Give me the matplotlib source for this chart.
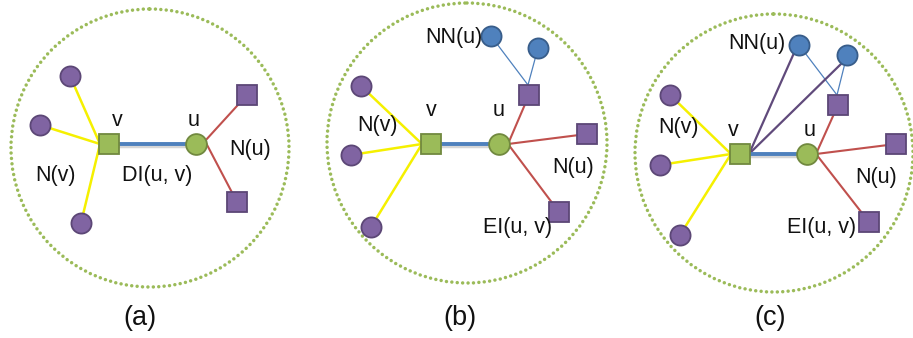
import matplotlib.pyplot as plt
from matplotlib.patches import Circle

plt.rcParams["font.family"] = ["Liberation Sans", "DejaVu Sans"]

# colours of the drawing
GREEN, GREEN_EDGE = "#9bbb59", "#71893f"
PURPLE, PURPLE_EDGE = "#8064a2", "#5c4776"
BLUE, BLUE_EDGE = "#4f81bd", "#385d8a"
YELLOW = "#f5f000"
RED = "#c0504d"
DARK_PURPLE = "#604a7b"

# ---- node positions (pixel space, y downwards) ----
# panel (a)
a_ring = (150, 148, 139)
a_v = (109, 144)
a_u = (196, 144)
a_nv = [(70, 76), (40, 125), (81, 223)]
a_nu = [(247, 95), (237, 202)]
a_nn = []

# panel (b)
b_ring = (467, 143, 140)
b_v = (431, 144)
b_u = (499, 144)
b_nv = [(361, 86), (351, 155), (371, 227)]
b_nu = [(529, 95), (587, 134), (559, 212)]
b_nn = [(491, 36), (538, 48)]

# panel (c)
c_ring = (774, 153, 139)
c_v = (740, 154)
c_u = (807, 154)
c_nv = [(670, 95), (660, 165), (680, 235)]
c_nu = [(838, 105), (896, 144), (869, 222)]
c_nn = [(799, 45), (847, 55)]

# ---- labels: (text, x, y) ----
a_labels = [("v", 117, 120), ("u", 194, 120), ("N(u)", 250, 150),
            ("N(v)", 55, 176), ("DI(u, v)", 157, 176)]
b_labels = [("NN(u)", 454, 38), ("v", 431, 110), ("u", 499, 110),
            ("N(v)", 377, 125), ("N(u)", 573, 167), ("EI(u, v)", 518, 227)]
c_labels = [("NN(u)", 757, 43), ("N(v)", 679, 128), ("v", 733, 130),
            ("u", 810, 130), ("N(u)", 876, 178), ("EI(u, v)", 822, 228)]
captions = [("(a)", 140, 318), ("(b)", 460, 318), ("(c)", 770, 318)]

panels = [
    (a_ring, a_v, a_u, a_nv, a_nu, a_nn, a_labels, False),
    (b_ring, b_v, b_u, b_nv, b_nu, b_nn, b_labels, False),
    (c_ring, c_v, c_u, c_nv, c_nu, c_nn, c_labels, True),
]

fig = plt.figure(figsize=(9.13, 3.38), dpi=100)
ax = fig.add_axes([0, 0, 1, 1])
ax.set_xlim(0, 913)
ax.set_ylim(338, 0)
ax.set_aspect("equal")
ax.axis("off")


def seg(p, q, **kw):
    ax.plot([p[0], q[0]], [p[1], q[1]], solid_capstyle="butt", **kw)


for ring, v, u, nv, nu, nn, labels, cross in panels:
    cx, cy, r = ring
    ax.add_patch(Circle((cx, cy), r, fill=False, ec=GREEN, lw=2.5,
                        linestyle=(0, (0.01, 1.55)), capstyle="round", zorder=1))

    hub_v = (v[0] - 9, v[1])
    hub_u = (u[0] + 9, u[1] - 3 if not nn else u[1])
    for p in nv:
        seg(hub_v, p, color=YELLOW, lw=1.8, zorder=2)
    for p in nu:
        seg(hub_u, p, color=RED, lw=1.5, zorder=2)
    if nn:
        top = (nu[0][0] - 1, nu[0][1] - 10)
        for p in nn:
            seg(top, p, color=BLUE, lw=0.9, zorder=2)
    if cross:
        for p in nn:
            seg((v[0] + 9, v[1]), (p[0] - 5, p[1] + 8), color=DARK_PURPLE,
                lw=1.6, zorder=2)

    # v - u edge with a soft shadow
    seg((v[0], v[1] + 1.5), (u[0], u[1] + 1.5), color="#bbbbbb", lw=3.2,
        alpha=0.6, zorder=2)
    seg(v, u, color=BLUE, lw=2.8, zorder=3)

    ax.plot([p[0] for p in nv], [p[1] for p in nv], "o", ms=14.5,
            mfc=PURPLE, mec=PURPLE_EDGE, mew=1.3, ls="none", zorder=4)
    ax.plot([p[0] for p in nu], [p[1] for p in nu], "s", ms=14.5,
            mfc=PURPLE, mec=PURPLE_EDGE, mew=1.3, ls="none", zorder=4)
    if nn:
        ax.plot([p[0] for p in nn], [p[1] for p in nn], "o", ms=14.5,
                mfc=BLUE, mec=BLUE_EDGE, mew=1.3, ls="none", zorder=4)
    ax.plot(*v, "s", ms=14.5, mfc=GREEN, mec=GREEN_EDGE, mew=1.3, zorder=4)
    ax.plot(*u, "o", ms=15, mfc=GREEN, mec=GREEN_EDGE, mew=1.3, zorder=4)

    for txt, x, y in labels:
        ax.text(x, y, txt, fontsize=15.5, ha="center", va="center",
                color="#111111", zorder=5)

for txt, x, y in captions:
    ax.text(x, y, txt, fontsize=19.5, ha="center", va="center",
            color="#111111")

fig.savefig("out.png", dpi=100, facecolor="white")
